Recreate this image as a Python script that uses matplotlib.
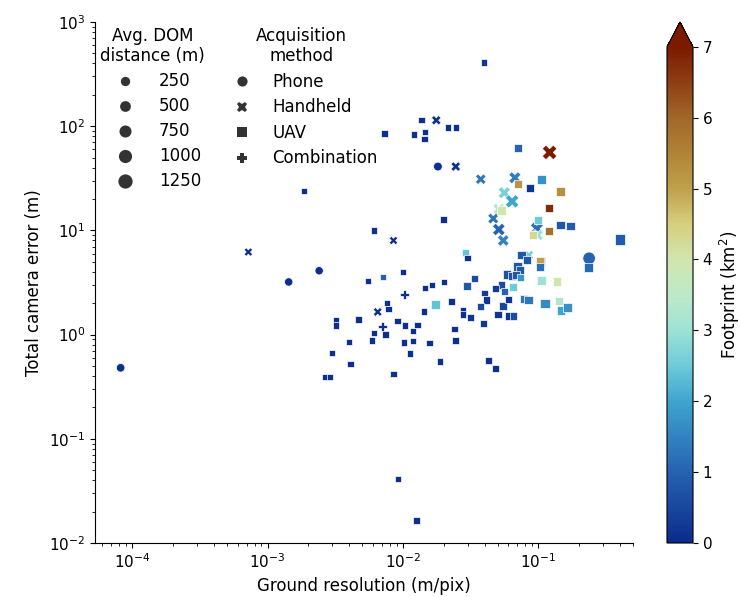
import numpy as np
import matplotlib
matplotlib.use("Agg")
import matplotlib.pyplot as plt
from matplotlib.colors import LinearSegmentedColormap, Normalize
from matplotlib.lines import Line2D

plt.rcParams['font.family'] = ['DejaVu Sans']

# ground resolution (m/pix), total camera error (m), footprint (km2), avg DOM distance (m)
phone_gsd = [8.2e-5, 0.00143, 0.0024, 0.0181, 0.237]
phone_err = [0.48, 3.2, 4.1, 41, 5.4]
phone_fp = [0.1, 0.1, 0.1, 0.1, 1.0]
phone_dist = [130, 100, 100, 160, 850]

hand_gsd = [0.00072, 0.0085, 0.0065, 0.0176, 0.0245, 0.0375, 0.067, 0.056, 0.064,
            0.051, 0.0464, 0.051, 0.055, 0.0975, 0.099, 0.085, 0.121]
hand_err = [6.2, 8.0, 1.65, 114, 41, 31, 32, 23, 19,
            16, 13, 10.2, 8.0, 10.4, 9.0, 5.8, 56]
hand_fp = [0.1, 0.1, 0.1, 0.1, 0.1, 1.3, 1.4, 2.6, 2.0,
           3.3, 1.3, 1.0, 1.5, 1.2, 3.0, 2.5, 7.5]
hand_dist = [140, 150, 200, 300, 330, 500, 800, 800, 1100,
             700, 570, 900, 700, 970, 600, 300, 1350]

uav_gsd = [0.0395, 0.0073, 0.012, 0.0137, 0.0145, 0.0144, 0.0215, 0.0245, 0.00185,
           0.0061, 0.0199, 0.0706, 0.0706, 0.087, 0.105, 0.146, 0.053, 0.119,
           0.099, 0.0906, 0.146, 0.173, 0.119, 0.40, 0.234, 0.0287, 0.030,
           0.075, 0.082, 0.1045, 0.103, 0.1032, 0.070, 0.0727, 0.0587, 0.0637,
           0.0686, 0.0741, 0.065, 0.106, 0.137, 0.142, 0.147, 0.164, 0.112,
           0.078, 0.0845, 0.0533, 0.0482, 0.0558, 0.0402, 0.0414, 0.0337, 0.0298,
           0.0228, 0.0371, 0.0547, 0.060, 0.0277, 0.0277, 0.0316, 0.0502, 0.0608,
           0.0656, 0.0395, 0.024, 0.0244, 0.0428, 0.048, 0.0187,
           0.0055, 0.0071, 0.0076, 0.0078, 0.0032, 0.0032, 0.0047, 0.0061, 0.0074,
           0.0059, 0.0040, 0.0030, 0.0041, 0.00265, 0.00289, 0.0100, 0.0146, 0.0164,
           0.020, 0.0174, 0.0143, 0.0091, 0.0103, 0.0128, 0.0119, 0.0102, 0.0118,
           0.0157, 0.0113, 0.0085, 0.0092, 0.0126]
uav_err = [410, 85, 83, 114, 88, 75, 97, 97, 24,
           10, 12.7, 62, 28, 25.7, 30.7, 23.7, 15.5, 16.4,
           12.6, 9.1, 11.3, 11.0, 9.9, 8.2, 4.4, 6.1, 5.4,
           5.8, 5.2, 5.0, 5.0, 4.43, 4.5, 4.2, 3.77, 3.65,
           3.7, 3.53, 2.85, 3.3, 3.25, 2.1, 1.71, 1.82, 2.0,
           2.2, 2.15, 3.0, 2.77, 2.6, 2.51, 2.14, 3.45, 2.93,
           2.1, 1.86, 1.88, 2.18, 1.71, 1.55, 1.46, 1.56, 1.5,
           1.5, 1.27, 1.13, 0.88, 0.565, 0.473, 0.55,
           3.25, 3.55, 2.0, 1.75, 1.37, 1.22, 1.4, 1.04, 1.0,
           0.88, 0.85, 0.67, 0.52, 0.393, 0.39, 4.0, 2.8, 3.0,
           3.2, 1.95, 1.66, 1.35, 1.22, 1.23, 1.09, 0.84, 0.87,
           0.83, 0.66, 0.42, 0.041, 0.0164]
uav_fp = [0.2, 0.1, 0.1, 0.1, 0.1, 0.1, 0.1, 0.1, 0.1,
          0.1, 0.1, 1.0, 5.2, 0.2, 1.7, 5.3, 4.0, 6.8,
          2.5, 4.3, 0.8, 0.9, 5.8, 0.9, 1.1, 2.4, 0.1,
          0.8, 0.8, 1.2, 5.0, 1.2, 0.8, 0.8, 0.7, 0.7,
          0.8, 1.8, 2.5, 3.0, 4.0, 3.3, 2.0, 1.7, 1.6,
          1.3, 1.3, 0.6, 0.3, 1.0, 0.3, 0.2, 0.6, 0.8,
          0.1, 0.6, 0.5, 0.2, 0.1, 0.1, 0.2, 0.2, 0.2,
          0.6, 0.2, 0.1, 0.1, 0.1, 0.1, 0.1,
          0.1, 1.0, 0.1, 0.1, 0.1, 0.1, 0.1, 0.1, 0.1,
          0.1, 0.1, 0.1, 0.1, 0.1, 0.1, 0.1, 0.1, 0.1,
          0.1, 2.4, 0.1, 0.1, 0.1, 0.1, 0.1, 0.1, 0.1,
          0.1, 0.1, 0.1, 0.1, 0.1]
uav_dist = [200, 200, 200, 200, 200, 200, 200, 200, 200,
            200, 200, 500, 600, 540, 900, 790, 900, 650,
            600, 650, 800, 800, 650, 1400, 900, 350, 200,
            650, 700, 800, 800, 500, 700, 600, 650, 700,
            650, 350, 500, 800, 800, 850, 850, 800, 1000,
            600, 650, 450, 450, 350, 280, 450, 450, 500,
            350, 350, 450, 450, 280, 280, 450, 450, 550,
            500, 450, 280, 280, 400, 350, 250,
            200, 200, 200, 200, 200, 200, 200, 200, 200,
            200, 200, 200, 200, 200, 200, 200, 200, 200,
            200, 850, 200, 200, 200, 200, 200, 200, 200,
            200, 200, 200, 200, 200]

combo_gsd = [0.0103, 0.0071]
combo_err = [2.4, 1.2]
combo_fp = [0.1, 0.1]
combo_dist = [200, 200]

size_ticks = [250, 500, 750, 1000, 1250]
methods = ['Phone', 'Handheld', 'UAV', 'Combination']
markers = ['o', 'X', (4, 0, 45), 'P']

cmap = LinearSegmentedColormap.from_list('roma_r', [
    (0.0, '#0b2b8c'), (1 / 7, '#2663b0'), (2 / 7, '#3ea5cf'), (2.5 / 7, '#6ecbd8'),
    (3 / 7, '#9ee2d5'), (3.5 / 7, '#bfe9c8'), (4 / 7, '#d0e6ae'), (4.5 / 7, '#d6cf7e'),
    (5 / 7, '#c0a14b'), (5.5 / 7, '#b08435'), (6 / 7, '#a1672a'), (6.5 / 7, '#8e4014'),
    (1.0, '#7c1a00')])
cmap.set_over('#7c1a00')
norm = Normalize(0, 7)


def msize(d):
    return 30 + 0.06 * np.asarray(d, dtype=float)


fig = plt.figure(figsize=(7.41, 5.97), dpi=100)
ax = fig.add_axes([95 / 741, 54 / 597, 538 / 741, 521 / 597])
cax = fig.add_axes([667 / 741, 54 / 597, 26 / 741, 521 / 597])

groups = [
    (phone_gsd, phone_err, phone_fp, phone_dist, markers[0]),
    (hand_gsd, hand_err, hand_fp, hand_dist, markers[1]),
    (uav_gsd, uav_err, uav_fp, uav_dist, markers[2]),
    (combo_gsd, combo_err, combo_fp, combo_dist, markers[3]),
]
sc = None
for gx, gy, gc, gd, mk in groups:
    sc = ax.scatter(gx, gy, c=gc, s=msize(gd), marker=mk, cmap=cmap, norm=norm,
                    edgecolors='white', linewidths=0.5, clip_on=False, zorder=3)

ax.set_xscale('log')
ax.set_yscale('log')
ax.set_xlim(5.3e-5, 0.5)
ax.set_ylim(1e-2, 1e3)
ax.spines['top'].set_visible(False)
ax.spines['right'].set_visible(False)
ax.tick_params(labelsize=11)
ax.set_xlabel('Ground resolution (m/pix)', fontsize=12)
ax.set_ylabel('Total camera error (m)', fontsize=12)

cb = fig.colorbar(sc, cax=cax, extend='max')
cb.set_ticks(range(8))
cb.ax.tick_params(labelsize=11)
cb.set_label('Footprint (km$^2$)', fontsize=12)

size_handles = [Line2D([], [], ls='', marker='o', color='.2', markeredgewidth=0,
                       markersize=np.sqrt(msize(d))) for d in size_ticks]
leg1 = ax.legend(size_handles, [str(d) for d in size_ticks], title='Avg. DOM\ndistance (m)',
                 loc='upper left', bbox_to_anchor=(-0.018, 1.02), frameon=False,
                 fontsize=12, title_fontsize=12, labelspacing=0.42, handletextpad=0.8,
                 handlelength=2.5, alignment='center')
leg1.get_title().set_multialignment('center')
ax.add_artist(leg1)

method_handles = [Line2D([], [], ls='', marker=m, color='.2', markeredgewidth=0,
                         markersize=9.5 if m == (4, 0, 45) else 7.3) for m in markers]
leg2 = ax.legend(method_handles, methods, title='Acquisition\nmethod',
                 loc='upper left', bbox_to_anchor=(0.215, 1.02), frameon=False,
                 fontsize=12, title_fontsize=12, labelspacing=0.45, handletextpad=0.8,
                 alignment='center')
leg2.get_title().set_multialignment('center')

fig.savefig('out.png', dpi=100)
